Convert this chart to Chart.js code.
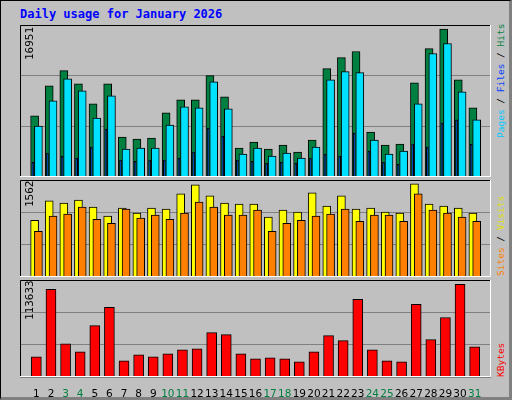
<!DOCTYPE html>
<html>
<head>
<meta charset="utf-8">
<script src="https://cdn.jsdelivr.net/npm/chart.js@4"></script>
<style>
  body { margin: 0; background: #fff; }
  #frame { position: relative; width: 508px; height: 396px; background: #c0c0c0;
    border: 1px solid #000; border-right: 3px solid #808080; border-bottom: 3px solid #808080;
    font-family: "DejaVu Sans Mono", monospace; }
  #title { position: absolute; left: 19px; top: 6px; color: #0000ff; font-weight: bold; font-size: 12px; }
  canvas { position: absolute; }
  .rot { position: absolute; transform: rotate(-90deg); transform-origin: left top; white-space: nowrap; font-size: 11px; line-height: 12px; }
  .side { font-size: 9.5px; }
</style>
</head>
<body>
<div id="frame">
  <div id="title">Daily usage for January 2026</div>
  <canvas id="c1" width="471" height="152" style="left:19px;top:24px"></canvas>
  <canvas id="c2" width="471" height="97" style="left:19px;top:179px"></canvas>
  <canvas id="c3" width="471" height="121" style="left:19px;top:279px"></canvas>
  <div class="rot" style="left:23px;top:59px">16951</div>
  <div class="rot" style="left:23px;top:206px">1562</div>
  <div class="rot" style="left:23px;top:319px">113633</div>
  <div class="rot side" style="left:494px;top:137px"><span style="color:#00c8ff">Pages</span> / <span style="color:#0040ff">Files</span> / <span style="color:#008040">Hits</span></div>
  <div class="rot side" style="left:494px;top:275px"><span style="color:#ff8000">Sites</span> / <span style="color:#e0e000">Visits</span></div>
  <div class="rot side" style="left:494px;top:376px"><span style="color:#ff0000">KBytes</span></div>
</div>
<script>
const days = Array.from({ length: 31 }, (_, i) => i + 1);
const weekends = [3, 4, 10, 11, 17, 18, 24, 25, 31];
const hits = [7000, 10460, 12190, 10690, 8380, 10690, 4580, 4350, 4460, 7340, 8840, 8840, 11610, 9190, 3310, 4000,
  3190, 3650, 2850, 4230, 12420, 13690, 14380, 5150, 3650, 3770, 10800, 14720, 16951, 11150, 7920];
const files = [5840, 8720, 11260, 9880, 6760, 9300, 3190, 3310, 3310, 5960, 8030, 7920, 10920, 7800, 2620, 3310,
  2390, 2730, 2160, 3420, 11150, 12070, 11960, 4230, 2620, 2960, 8380, 14150, 15300, 9770, 6540];
const pages = [1690, 2730, 2390, 2160, 3420, 5500, 1930, 1810, 1930, 1930, 2160, 2850, 5620, 4690, 1930, 1810,
  1580, 1690, 1580, 2160, 2620, 2390, 5040, 2960, 1690, 1460, 3770, 3420, 6190, 6540, 3770];
const visits = [951, 1274, 1240, 1290, 1172, 1019, 1155, 1070, 1155, 1138, 1392, 1545, 1358, 1240, 1223, 1223,
  1002, 1121, 1087, 1409, 1189, 1358, 1138, 1155, 1087, 1070, 1562, 1223, 1189, 1155, 1070];
const sites = [764, 1019, 1053, 1172, 968, 900, 1138, 985, 1036, 968, 1070, 1257, 1172, 1036, 1036, 1121,
  764, 900, 951, 1019, 1053, 1138, 934, 1036, 1036, 934, 1392, 1121, 1070, 1002, 934];
const kbytes = [24700, 107450, 40760, 30880, 62990, 85220, 19760, 27170, 24700, 28410, 33350, 34580, 54340, 51870, 28410, 22230,
  23470, 22230, 18530, 30880, 50640, 44460, 95100, 33350, 19760, 18530, 88930, 45700, 72870, 113633, 37050];

const frameLines = {
  id: 'frameLines',
  afterDraw(chart) {
    const a = chart.chartArea, c = chart.ctx;
    c.save();
    c.lineWidth = 1;
    c.strokeStyle = '#000';
    c.beginPath(); c.moveTo(a.left + 0.5, a.bottom); c.lineTo(a.left + 0.5, a.top + 0.5); c.lineTo(a.right, a.top + 0.5); c.stroke();
    c.strokeStyle = '#fff';
    c.beginPath(); c.moveTo(a.left, a.bottom - 0.5); c.lineTo(a.right - 0.5, a.bottom - 0.5); c.lineTo(a.right - 0.5, a.top); c.stroke();
    c.restore();
  }
};

function ds(values, offset, width, color) {
  return {
    data: values.map((v, i) => ({ x: days[i] + offset, y: v })),
    backgroundColor: color, borderColor: '#000', borderWidth: 1,
    barThickness: width, grouped: false, borderSkipped: 'bottom'
  };
}

function panel(id, datasets, max, showDays) {
  new Chart(document.getElementById(id), {
    type: 'bar',
    data: { datasets },
    plugins: [frameLines],
    options: {
      responsive: false, animation: false,
      layout: { padding: 0 },
      plugins: { legend: { display: false }, tooltip: { enabled: false } },
      scales: {
        x: {
          type: 'linear', min: 0.4, max: 31.6, display: showDays,
          grid: { display: false }, border: { display: false },
          afterBuildTicks: s => { s.ticks = days.map(d => ({ value: d })); },
          afterFit: s => { s.height = showDays ? 24 : 0; },
          ticks: {
            font: { family: 'DejaVu Sans', size: 10.5 }, padding: 3, maxRotation: 0, autoSkip: false,
            color: ctx => weekends.includes(ctx.tick.value) ? '#008040' : '#000'
          }
        },
        y: {
          min: 0, max, display: true,
          afterFit: s => { s.width = 0; },
          afterBuildTicks: s => { s.ticks = [0, 1, 2, 3].map(k => ({ value: max * k / 3 })); },
          ticks: { display: false },
          border: { display: false },
          grid: { color: '#808080', drawTicks: false }
        }
      }
    }
  });
}

panel('c1', [
  ds(pages, -0.24, 2, '#0040ff'),
  ds(files, 0.14, 8, '#00e0ff'),
  ds(hits, -0.12, 8, '#008040')
], 17420, false);
panel('c2', [
  ds(sites, 0.14, 8, '#ff8000'),
  ds(visits, -0.12, 8, '#ffff00')
], 1625, false);
panel('c3', [ds(kbytes, 0, 10, '#ff0000')], 118800, true);
</script>
</body>
</html>
